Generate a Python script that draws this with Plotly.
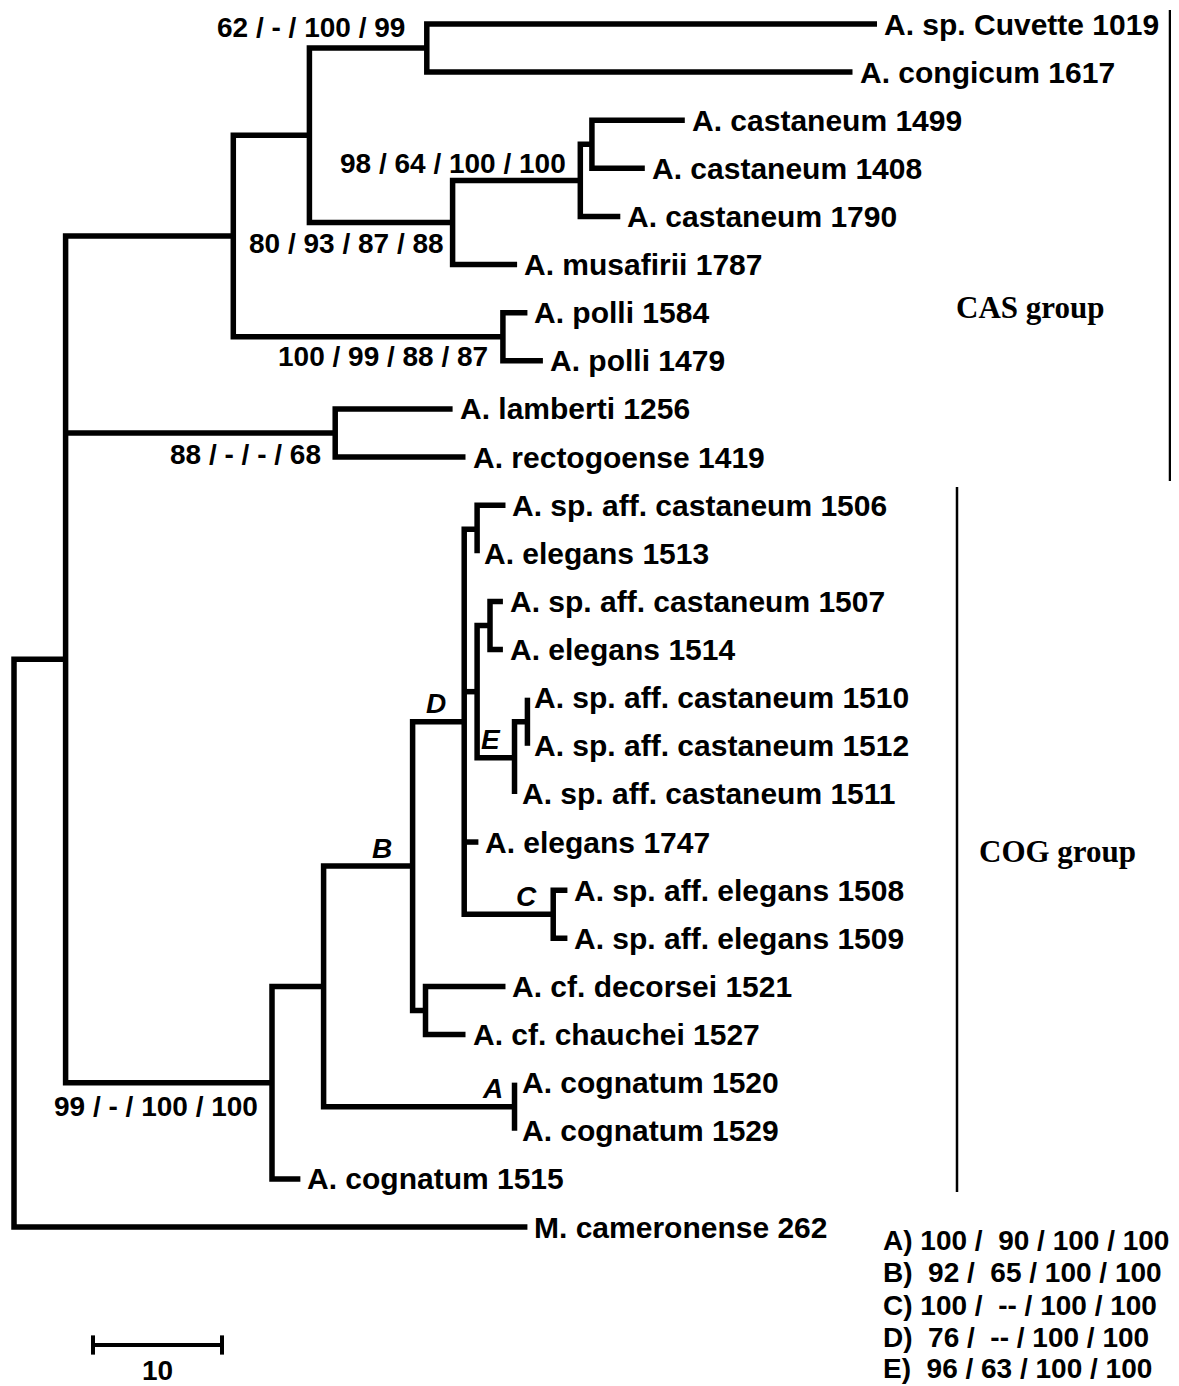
import plotly.graph_objects as go

# ---------------- data ----------------
# internal nodes of the tree: id, parent, distance from root (in scale units)
internal_ids = ["root", "ING", "CAS", "N1", "P1", "P2", "CST", "CST2", "POL", "LAM",
                "COG", "N322", "B", "D", "N1506", "N475", "N1507", "E", "N1510", "C", "DC", "A"]
internal_parent = [None, "root", "ING", "CAS", "N1", "N1", "P2", "CST", "CAS", "ING",
                   "ING", "COG", "N322", "B", "D", "D", "N475", "N475", "E", "D", "B", "N322"]
internal_depth = [0.0, 4.0, 17.0, 22.9, 32.0, 34.0, 43.9, 44.8, 37.9, 24.9,
                  20.0, 24.0, 30.9, 34.9, 35.9, 35.9, 36.9, 38.8, 39.8, 41.8, 31.9, 38.8]

# leaves (top to bottom)
leaf_names = ["A. sp. Cuvette 1019", "A. congicum 1617", "A. castaneum 1499", "A. castaneum 1408",
              "A. castaneum 1790", "A. musafirii 1787", "A. polli 1584", "A. polli 1479",
              "A. lamberti 1256", "A. rectogoense 1419", "A. sp. aff. castaneum 1506", "A. elegans 1513",
              "A. sp. aff. castaneum 1507", "A. elegans 1514", "A. sp. aff. castaneum 1510",
              "A. sp. aff. castaneum 1512", "A. sp. aff. castaneum 1511", "A. elegans 1747",
              "A. sp. aff. elegans 1508", "A. sp. aff. elegans 1509", "A. cf. decorsei 1521",
              "A. cf. chauchei 1527", "A. cognatum 1520", "A. cognatum 1529", "A. cognatum 1515",
              "M. cameronense 262"]
leaf_parent = ["P1", "P1", "CST2", "CST2", "CST", "P2", "POL", "POL", "LAM", "LAM",
               "N1506", "N1506", "N1507", "N1507", "N1510", "N1510", "E", "D", "C", "C",
               "DC", "DC", "A", "A", "COG", "root"]
leaf_depth = [66.9, 65.0, 52.0, 48.9, 47.0, 39.0, 39.8, 41.0, 34.0, 35.0,
              38.1, 35.9, 37.9, 37.9, 39.8, 39.8, 38.8, 36.0, 42.9, 42.9,
              38.1, 35.0, 38.8, 38.8, 22.2, 39.8]

# support values at nodes
support_nodes = ["P1", "CST", "P2", "POL", "LAM", "COG"]
support_text = ["62 / - / 100 / 99", "98 / 64 / 100 / 100", "80 / 93 / 87 / 88",
                "100 / 99 / 88 / 87", "88 / - / - / 68", "99 / - / 100 / 100"]
support_above = [True, True, False, False, False, False]

# lettered nodes and their values
letter_nodes = ["A", "B", "C", "D", "E"]
letter_values = ["100 /  90 / 100 / 100", " 92 /  65 / 100 / 100", "100 /  -- / 100 / 100",
                 " 76 /  -- / 100 / 100", " 96 / 63 / 100 / 100"]

# groups
group_names = ["CAS group", "COG group"]

scale_length = 10

# ---------------- layout of the tree ----------------
depth = {}
parent = {}
for n, p, d in zip(internal_ids, internal_parent, internal_depth):
    depth[n] = d
    parent[n] = p
ypos = {}
for i, (n, p, d) in enumerate(zip(leaf_names, leaf_parent, leaf_depth)):
    depth[n] = d
    parent[n] = p
    ypos[n] = float(i)

children = {n: [] for n in internal_ids}
for n, p in parent.items():
    if p is not None:
        children[p].append(n)


def get_y(n):
    if n in ypos:
        return ypos[n]
    ys = [get_y(c) for c in children[n]]
    ypos[n] = (min(ys) + max(ys)) / 2
    return ypos[n]


get_y("root")

xs, ys = [], []
for n in internal_ids:
    ch = sorted(children[n], key=lambda c: ypos[c])
    f, l = ch[0], ch[-1]
    xs += [depth[f], depth[n], depth[n], depth[l], None]
    ys += [ypos[f], ypos[f], ypos[l], ypos[l], None]
    for c in ch[1:-1]:
        xs += [depth[n], depth[c], None]
        ys += [ypos[c], ypos[c], None]

# page has an 8px body margin: the figure starts at page pixel (8, 8)
OFF = 8
PX_PER_UNIT = 12.9
PX_PER_LEAF = 48.12
X0 = 14 - OFF          # root position in figure pixels
Y0 = 24 - OFF          # first leaf position in figure pixels
W, H = 1179 - OFF, 1386 - OFF


def px(xpage):
    return (xpage - OFF) / W


def py(ypage):
    return 1 - (ypage - OFF) / H


def ux(xpage):
    return (xpage - OFF - X0) / PX_PER_UNIT


def uy(ypage):
    return (ypage - OFF - Y0) / PX_PER_LEAF


fig = go.Figure()
fig.add_trace(go.Scatter(x=xs, y=ys, mode="lines", line=dict(color="black", width=5.5),
                         hoverinfo="skip"))

# scale bar
sb_x0 = ux(93)
sb_y = uy(1345)
cap = 0.2
fig.add_trace(go.Scatter(
    x=[sb_x0, sb_x0 + scale_length, None, sb_x0, sb_x0, None, sb_x0 + scale_length, sb_x0 + scale_length],
    y=[sb_y, sb_y, None, sb_y - cap, sb_y + cap, None, sb_y - cap, sb_y + cap],
    mode="lines", line=dict(color="black", width=4), hoverinfo="skip"))

ann = []
SANS = "Liberation Sans, Arial, sans-serif"
for n in leaf_names:
    ann.append(dict(x=depth[n], y=ypos[n], text=n, xanchor="left", yanchor="middle",
                    xshift=5, showarrow=False,
                    font=dict(family=SANS, size=30, color="black", weight="bold")))

sup_dx = [-20, -12, -7, -13, -12, -12]
sup_dy = [21, 17, -21, -20, -21, -24]
for n, t, up, dx, dy in zip(support_nodes, support_text, support_above, sup_dx, sup_dy):
    ann.append(dict(x=depth[n], y=ypos[n], text=t, xanchor="right", yanchor="middle",
                    xshift=dx, yshift=dy, showarrow=False,
                    font=dict(family=SANS, size=28, color="black", weight="bold")))

let_dx = [-10, -19, -14, -16, -12]
for n, dx in zip(letter_nodes, let_dx):
    ann.append(dict(x=depth[n], y=ypos[n], text=n, xanchor="right", yanchor="middle",
                    xshift=dx, yshift=18, showarrow=False,
                    font=dict(family=SANS, size=28, color="black", weight="bold", style="italic")))

# legend of lettered nodes
leg_y = [1240, 1272.5, 1305, 1337, 1368]
for k, v, yy in zip(letter_nodes, letter_values, leg_y):
    txt = (k + ") " + v).replace(" ", "\u00a0")
    ann.append(dict(x=px(881), y=py(yy), xref="paper", yref="paper", text=txt,
                    xanchor="left", yanchor="middle", showarrow=False,
                    font=dict(family=SANS, size=28, color="black", weight="bold")))

# scale label
ann.append(dict(x=sb_x0 + scale_length / 2, y=sb_y, text=str(scale_length), xanchor="center",
                yanchor="middle", yshift=-25, showarrow=False,
                font=dict(family=SANS, size=28, color="black", weight="bold")))

# group bars and labels
bar_x = [ux(1170), ux(957)]
bar_y0 = [uy(10), uy(487)]
bar_y1 = [uy(481), uy(1192)]
lab_pos = [(1030, 308), (1057, 851)]
shapes = []
for g, bx, b0, b1, (lx, ly) in zip(group_names, bar_x, bar_y0, bar_y1, lab_pos):
    shapes.append(dict(type="line", x0=bx, x1=bx, y0=b0, y1=b1, xref="x", yref="y",
                       line=dict(color="black", width=2.5)))
    ann.append(dict(x=px(lx), y=py(ly), xref="paper", yref="paper", text=g,
                    xanchor="center", yanchor="middle", showarrow=False,
                    font=dict(family="Liberation Serif, Times New Roman, serif", size=31,
                              color="black", weight="bold")))

fig.update_layout(
    width=W, height=H, margin=dict(l=0, r=0, t=0, b=0),
    paper_bgcolor="white", plot_bgcolor="white", showlegend=False,
    xaxis=dict(visible=False, range=[-X0 / PX_PER_UNIT, (W - X0) / PX_PER_UNIT], fixedrange=True),
    yaxis=dict(visible=False, range=[(H - Y0) / PX_PER_LEAF, -Y0 / PX_PER_LEAF], fixedrange=True),
    annotations=ann, shapes=shapes,
)

fig.write_html("out.html")
